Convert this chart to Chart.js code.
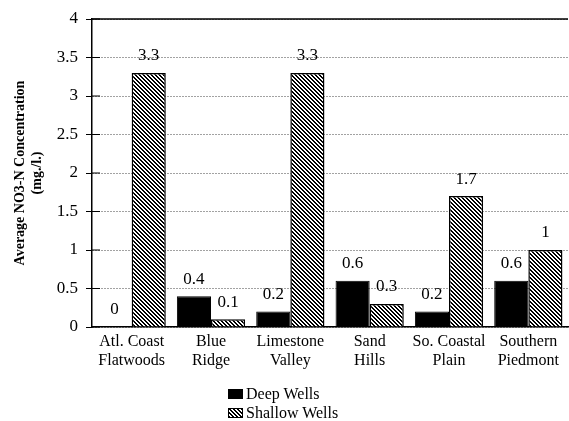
<!DOCTYPE html>
<html lang="en">
<head>
<meta charset="UTF-8">
<title>Average NO3-N Concentration</title>
<script src="https://cdn.jsdelivr.net/npm/chart.js"></script>
<style>
  body { margin: 0; background: #fff; }
  #wrap { position: relative; width: 569px; height: 421px; }
  .legend { position: absolute; left: 228px; top: 384px; font-family: 'Liberation Serif', 'Times New Roman', serif; font-size: 16px; color: #000; line-height: 19px; }
  .legend div { display: flex; align-items: center; }
  .sw { width: 15px; height: 10px; margin-right: 3px; box-sizing: border-box; }
  .deep { background: #000; }
  .shallow { border: 1px solid #000; background: repeating-linear-gradient(45deg, #000 0 1.4px, #fff 1.4px 2.8px); }
</style>
</head>
<body>
<div id="wrap">
  <canvas id="chart" width="569" height="421"></canvas>
  <div class="legend">
    <div><span class="sw deep"></span>Deep Wells</div>
    <div><span class="sw shallow"></span>Shallow Wells</div>
  </div>
</div>
<script>
  // data
  const regions    = [['Atl. Coast','Flatwoods'], ['Blue','Ridge'], ['Limestone','Valley'], ['Sand','Hills'], ['So. Coastal','Plain'], ['Southern','Piedmont']];
  const deepWells    = [0, 0.4, 0.2, 0.6, 0.2, 0.6];
  const shallowWells = [3.3, 0.1, 3.3, 0.3, 1.7, 1];
  const yMin = 0, yMax = 4, yStep = 0.5;

  const serif = "'Liberation Serif', 'Times New Roman', serif";

  // diagonal hatch fill for shallow wells
  function hatch() {
    const c = document.createElement('canvas');
    c.width = 4; c.height = 4;
    const g = c.getContext('2d');
    g.fillStyle = '#fff'; g.fillRect(0, 0, 4, 4);
    g.fillStyle = '#000';
    for (let i = 0; i < 4; i++) { g.fillRect(i, i, 1, 1); g.fillRect((i + 1) % 4, i, 1, 1); }
    return g.createPattern(c, 'repeat');
  }

  // value labels, solid top line and inner tick marks
  const overlay = {
    id: 'overlay',
    afterDatasetsDraw(chart) {
      const ctx = chart.ctx;
      ctx.save();
      ctx.font = '17px ' + serif;
      ctx.fillStyle = '#000';
      ctx.textAlign = 'center';
      ctx.textBaseline = 'middle';
      chart.data.datasets.forEach((ds, i) => {
        chart.getDatasetMeta(i).data.forEach((bar, j) => {
          ctx.fillText(String(ds.data[j]), bar.x, bar.y - 17);
        });
      });
      ctx.restore();
    },
    afterDraw(chart) {
      const { ctx, chartArea: a, scales: { y } } = chart;
      ctx.save();
      ctx.strokeStyle = '#000';
      ctx.lineWidth = 1.5;
      const top = y.getPixelForValue(yMax);
      ctx.beginPath(); ctx.moveTo(a.left, top); ctx.lineTo(a.right, top); ctx.stroke();
      ctx.lineWidth = 1;
      y.ticks.forEach(t => {
        const p = y.getPixelForValue(t.value);
        ctx.beginPath(); ctx.moveTo(a.left, p); ctx.lineTo(a.left + 8, p); ctx.stroke();
      });
      ctx.restore();
    }
  };

  new Chart(document.getElementById('chart'), {
    type: 'bar',
    data: {
      labels: regions,
      datasets: [
        { label: 'Deep Wells', data: deepWells, backgroundColor: '#000', borderColor: '#000', borderWidth: 1 },
        { label: 'Shallow Wells', data: shallowWells, backgroundColor: hatch(), borderColor: '#000', borderWidth: 1.5 }
      ]
    },
    options: {
      responsive: false,
      animation: false,
      devicePixelRatio: 1,
      categoryPercentage: 0.86,
      barPercentage: 1,
      layout: { padding: { left: 0, top: 19, right: 1, bottom: 44 } },
      plugins: { legend: { display: false }, tooltip: { enabled: false } },
      scales: {
        x: {
          grid: { display: false, drawTicks: false },
          border: { color: '#000', width: 1.5 },
          ticks: { color: '#000', font: { family: serif, size: 16 }, padding: 5, maxRotation: 0, autoSkip: false },
          afterFit: s => { s.height = 50; }
        },
        y: {
          min: yMin, max: yMax,
          ticks: { stepSize: yStep, color: '#000', font: { family: serif, size: 17 }, padding: 8, callback: v => String(v) },
          grid: { color: '#444', lineWidth: 1, tickLength: 6, tickColor: '#000' },
          border: { color: '#000', width: 1.5, dash: [1, 2] },
          title: {
            display: true,
            text: ['Average NO3-N Concentration', '(mg./l.)'],
            color: '#000',
            font: { family: serif, size: 14, weight: 'bold' },
            padding: { top: 12, bottom: 0 }
          },
          afterFit: s => { s.width = 92; }
        }
      }
    },
    plugins: [overlay]
  });
</script>
</body>
</html>
